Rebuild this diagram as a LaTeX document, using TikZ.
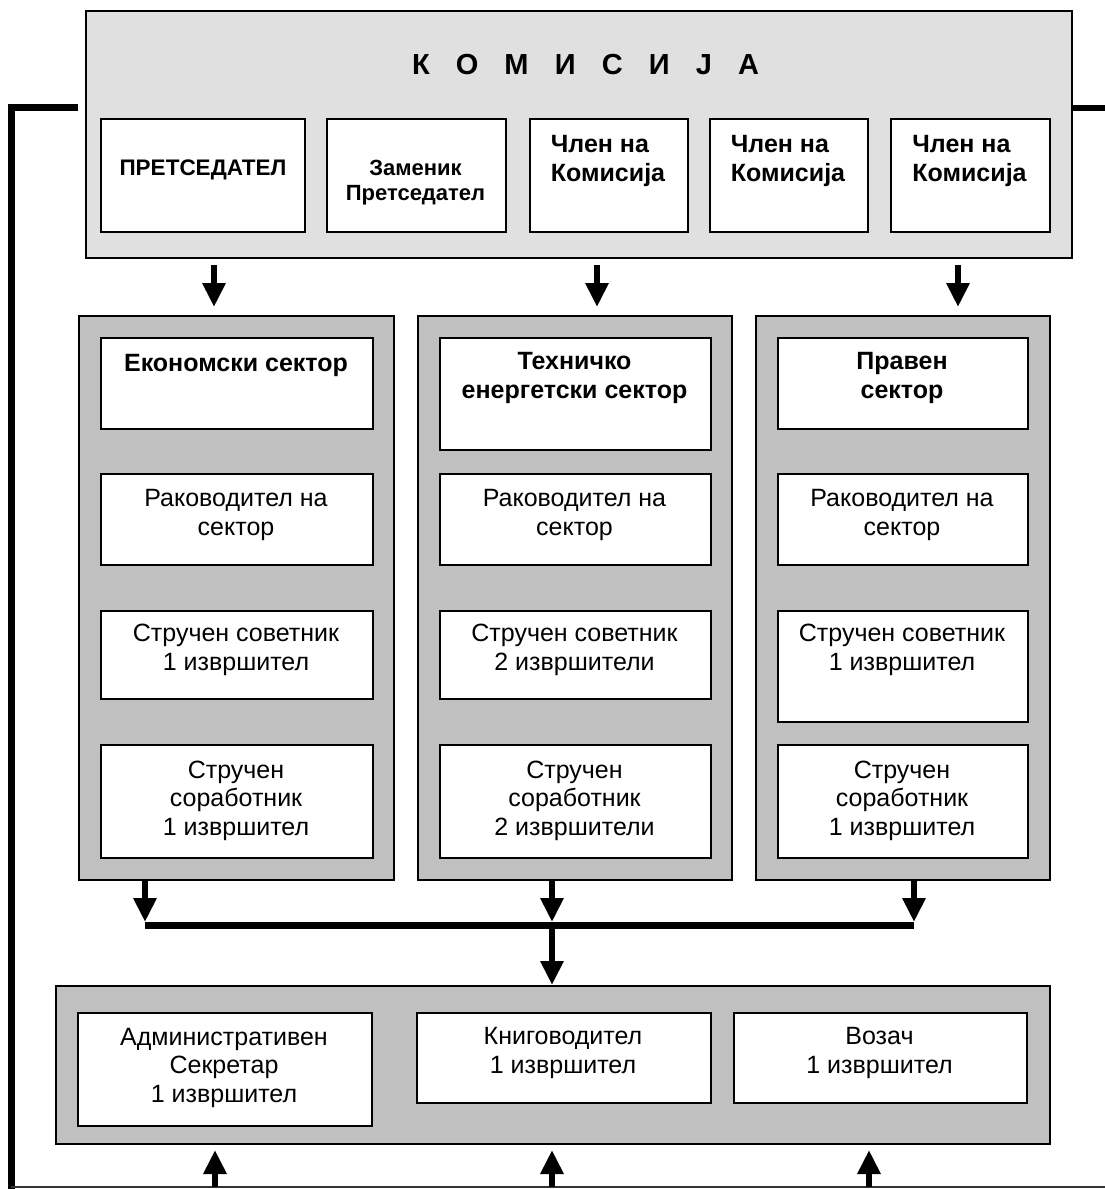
\documentclass[tikz,border=0pt]{standalone}
\usepackage{fontspec}
\setmainfont{Liberation Sans}
\usetikzlibrary{arrows.meta,calc}
\definecolor{komfill}{HTML}{E0E0E0}
\definecolor{secfill}{HTML}{C0C0C0}
\tikzset{
  panel/.style={draw=black, line width=2pt, inner sep=0pt, anchor=north west},
  kompanel/.style={panel, fill=komfill},
  secpanel/.style={panel, fill=secfill},
  card/.style={draw=black, line width=1.8pt, fill=white, inner sep=0pt, anchor=north west},
  norm/.style={font=\fontsize{25}{28.5}\selectfont, align=center, inner sep=0pt, anchor=base},
  bold/.style={font=\fontsize{25}{28.5}\selectfont\bfseries, align=center, inner sep=0pt, anchor=base},
  flow/.style={line width=6.5pt, -{Triangle[length=24pt,width=22pt]}},
  frameline/.style={line width=7pt, line join=miter},
}
\begin{document}
\begin{tikzpicture}[x=1pt,y=-1pt]
\useasboundingbox (0,0) rectangle (1105,1189);

% ---------- Commission ----------
\node[kompanel, minimum width=986pt, minimum height=247pt] (kom) at (85,10) {};
\node[bold, font=\fontsize{29}{32}\selectfont\bfseries] (komt) at (585.5,74)
  {\makebox[347pt][s]{К\hfill О\hfill М\hfill И\hfill С\hfill И\hfill Ј\hfill А}};

\node[card, minimum width=204pt, minimum height=113pt] (pres) at (100,118) {};
\node[card, minimum width=179pt, minimum height=113pt] (zam)  at (326,118) {};
\node[card, minimum width=158pt, minimum height=113pt] (cl1)  at (529,118) {};
\node[card, minimum width=158pt, minimum height=113pt] (cl2)  at (709,118) {};
\node[card, minimum width=159pt, minimum height=113pt] (cl3)  at (890,118) {};

% (base anchor = baseline of the last line)
\node[bold, font=\fontsize{22.5}{25}\selectfont\bfseries] (prest) at (203,175) {ПРЕТСЕДАТЕЛ};
\node[bold, font=\fontsize{22}{25}\selectfont\bfseries] (zamt) at (415.5,200) {Заменик\\Претседател};
\node[bold, align=left] (cl1t) at (608,181) {Член на\\Комисија};
\node[bold, align=left] (cl2t) at (788,181) {Член на\\Комисија};
\node[bold, align=left] (cl3t) at (969.5,181) {Член на\\Комисија};

% ---------- Sectors ----------
\node[secpanel, minimum width=315pt, minimum height=564pt] (s1) at (78,315) {};
\node[secpanel, minimum width=314pt, minimum height=564pt] (s2) at (417,315) {};
\node[secpanel, minimum width=294pt, minimum height=564pt] (s3) at (755,315) {};

% sector 1
\node[card, minimum width=272pt, minimum height=91pt]  (s1a) at (100,337) {};
\node[card, minimum width=272pt, minimum height=91pt]  (s1b) at (100,473) {};
\node[card, minimum width=272pt, minimum height=88pt]  (s1c) at (100,610) {};
\node[card, minimum width=272pt, minimum height=113pt] (s1d) at (100,744) {};
% sector 2
\node[card, minimum width=271pt, minimum height=112pt] (s2a) at (439,337) {};
\node[card, minimum width=271pt, minimum height=91pt]  (s2b) at (439,473) {};
\node[card, minimum width=271pt, minimum height=88pt]  (s2c) at (439,610) {};
\node[card, minimum width=271pt, minimum height=113pt] (s2d) at (439,744) {};
% sector 3
\node[card, minimum width=250pt, minimum height=91pt]  (s3a) at (777,337) {};
\node[card, minimum width=250pt, minimum height=91pt]  (s3b) at (777,473) {};
\node[card, minimum width=250pt, minimum height=111pt] (s3c) at (777,610) {};
\node[card, minimum width=250pt, minimum height=113pt] (s3d) at (777,744) {};

\node[bold] (s1at) at (236,371) {Економски сектор};
\node[bold] (s2at) at (574.5,398) {Техничко\\енергетски сектор};
\node[bold] (s3at) at (902,398) {Правен\\сектор};

\node[norm] (s1bt) at (236,535) {Раководител на\\сектор};
\node[norm] (s2bt) at (574.5,535) {Раководител на\\сектор};
\node[norm] (s3bt) at (902,535) {Раководител на\\сектор};

\node[norm] (s1ct) at (236,670) {Стручен советник\\1 извршител};
\node[norm] (s2ct) at (574.5,670) {Стручен советник\\2 извршители};
\node[norm] (s3ct) at (902,670) {Стручен советник\\1 извршител};

\node[norm] (s1dt) at (236,835) {Стручен\\соработник\\1 извршител};
\node[norm] (s2dt) at (574.5,835) {Стручен\\соработник\\2 извршители};
\node[norm] (s3dt) at (902,835) {Стручен\\соработник\\1 извршител};

% ---------- Administration ----------
\node[secpanel, minimum width=994pt, minimum height=158pt] (adm) at (55,985) {};
\node[card, minimum width=294pt, minimum height=113pt] (ad1) at (77,1012) {};
\node[card, minimum width=294pt, minimum height=90pt]  (ad2) at (416,1012) {};
\node[card, minimum width=293pt, minimum height=90pt]  (ad3) at (733,1012) {};
\node[norm] (ad1t) at (224,1102) {Административен\\Секретар\\1 извршител};
\node[norm] (ad2t) at (563,1073) {Книговодител\\1 извршител};
\node[norm] (ad3t) at (879.5,1073) {Возач\\1 извршител};

% ---------- Connectors ----------
\coordinate (a1) at (214,0);
\coordinate (a2) at (597,0);
\coordinate (a3) at (958,0);
\draw[flow, shorten <=6pt, shorten >=8pt] (kom.south -| a1) -- (s1.north -| a1);
\draw[flow, shorten <=6pt, shorten >=8pt] (kom.south -| a2) -- (s2.north -| a2);
\draw[flow, shorten <=6pt, shorten >=8pt] (kom.south -| a3) -- (s3.north -| a3);

\coordinate (busL) at (145,925);
\coordinate (busM) at (552,925);
\coordinate (busR) at (914,925);
\draw[line width=7pt] (busL) -- (busR);
\draw[flow, shorten >=3pt] (s1.south -| busL) -- (busL);
\draw[flow, shorten >=3pt] (s2.south -| busM) -- (busM);
\draw[flow, shorten >=3pt] (s3.south -| busR) -- (busR);
\draw[flow] (busM) -- (adm.north -| busM);

% frame lines
\coordinate (ftop) at (78,107);
\coordinate (fcorner) at (11,107);
\coordinate (fbot) at (11,1192);
\draw[frameline] (ftop) -- (fcorner) -- (fbot);
\coordinate (rend) at (1108,108);
\draw[line width=6pt] (kom.east |- rend) -- (rend);
\coordinate (bl) at (11,1187);
\coordinate (br) at (1108,1187);
\draw[line width=2pt, black!80] (bl) -- (br);

\coordinate (u1) at (215,1187);
\coordinate (u2) at (552,1187);
\coordinate (u3) at (869,1187);
\draw[flow, shorten >=5pt] (u1) -- (adm.south -| u1);
\draw[flow, shorten >=5pt] (u2) -- (adm.south -| u2);
\draw[flow, shorten >=5pt] (u3) -- (adm.south -| u3);
\end{tikzpicture}
\end{document}
